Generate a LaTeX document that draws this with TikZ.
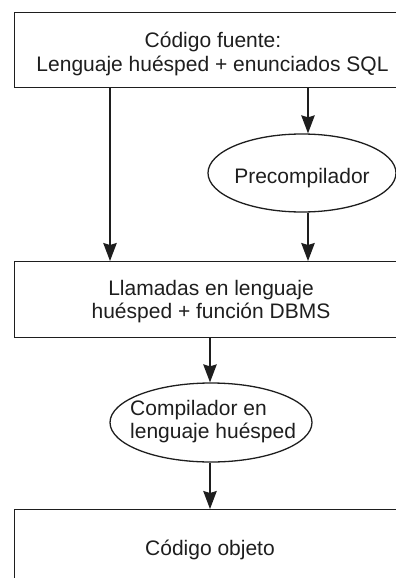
\documentclass[tikz,border=0pt]{standalone}
\usepackage{fontspec}
\setmainfont{Liberation Sans}
\usetikzlibrary{shapes.geometric,arrows.meta}
\definecolor{ink}{HTML}{1E1E1E}
\tikzset{
  boxshape/.style={draw=ink, line width=1.3pt, inner sep=0pt, anchor=north west},
  ovalshape/.style={draw=ink, line width=1.3pt, ellipse, inner sep=0pt},
  lbl/.style={text=ink, inner sep=0pt, font=\fontsize{21}{24}\selectfont},
  arr/.style={draw=ink, line width=1.3pt, -{Stealth[length=18pt,width=13.5pt,inset=2pt]}}
}
\begin{document}
\begin{tikzpicture}[x=1pt,y=-1pt]
\useasboundingbox (0,0) rectangle (396,578);
\clip (0,0) rectangle (396,578);
% shapes
\node[boxshape, minimum width=400pt, minimum height=75pt] (b1) at (14,12) {};
\node[boxshape, minimum width=400pt, minimum height=76pt] (b2) at (14,261) {};
\node[boxshape, minimum width=400pt, minimum height=120pt] (b3) at (14,509) {};
\node[ovalshape, minimum width=188pt, minimum height=78pt] (e1) at (302,173) {};
\node[ovalshape, minimum width=202pt, minimum height=79pt] (e2) at (211,422.5) {};
% texts
\node[lbl, anchor=base] (t1) at (213,47.5) {Código fuente:};
\node[lbl, anchor=base] (t2) at (212.5,71.5) {Lenguaje huésped + enunciados SQL};
\node[lbl, anchor=base] (t3) at (302,183) {Precompilador};
\node[lbl, anchor=base] (t4) at (211,295) {Llamadas en lenguaje};
\node[lbl, anchor=base] (t5) at (211,318.3) {huésped + función DBMS};
\node[lbl, anchor=base west] (t6) at (130,415.7) {Compilador en};
\node[lbl, anchor=base west] (t7) at (130,438.3) {lenguaje huésped};
\node[lbl, anchor=base] (t8) at (210,555) {Código objeto};
% guide coordinates
\coordinate (cl) at (110,0);
\coordinate (cr) at (308,0);
\coordinate (cm) at (210,0);
% connectors
\draw[arr] (b1.south -| cl) -- (b2.north -| cl);
\draw[arr] (b1.south -| cr) -- (e1.north -| cr);
\draw[arr] (e1.south -| cr) -- (b2.north -| cr);
\draw[arr] (b2.south -| cm) -- (e2.north -| cm);
\draw[arr] (e2.south -| cm) -- (b3.north -| cm);
\end{tikzpicture}
\end{document}
